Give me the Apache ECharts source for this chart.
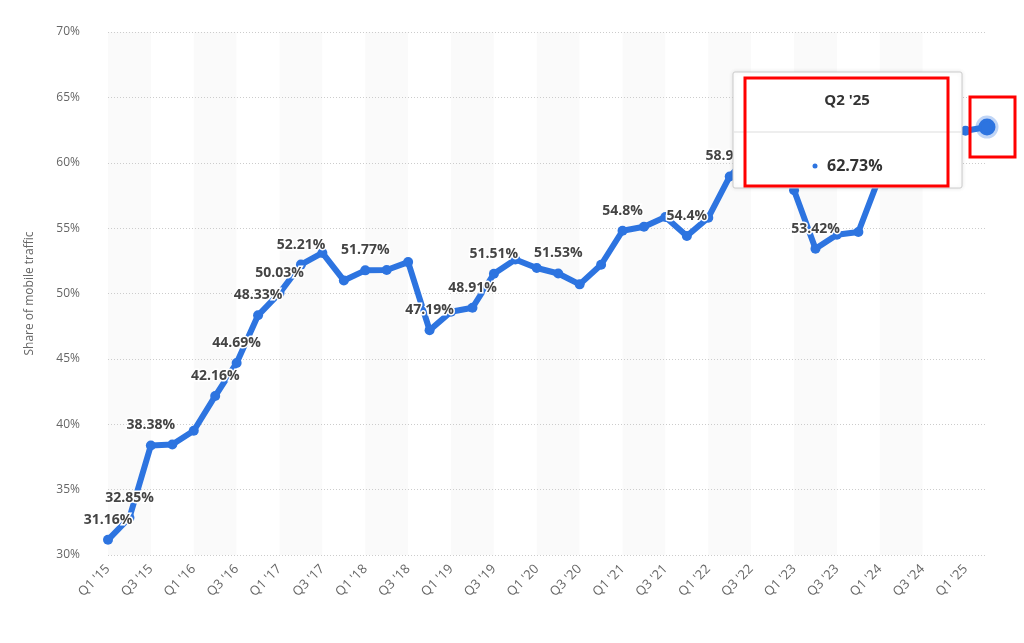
<!DOCTYPE html>
<html>
<head>
<meta charset="utf-8">
<script src="https://cdn.jsdelivr.net/npm/echarts@6/dist/echarts.min.js"></script>
<style>
  html, body { margin: 0; padding: 0; background: #fff; }
  #chart { width: 1024px; height: 643px; }
</style>
</head>
<body>
<div id="chart"></div>
<script>
// quarters Q1 '15 .. Q2 '25
const quarters = [];
for (let y = 15; y <= 25; y++) {
  for (let q = 1; q <= 4; q++) {
    if (y === 25 && q > 2) break;
    quarters.push(`Q${q} '${y}`);
  }
}

const mobileShare = [
  31.16, 32.85, 38.38, 38.45, 39.5, 42.16, 44.69, 48.33, 50.03, 52.21,
  53.1, 51.0, 51.77, 51.8, 52.4, 47.19, 48.6, 48.91, 51.51, 52.6,
  51.95, 51.53, 50.7, 52.2, 54.8, 55.1, 55.85, 54.4, 55.8, 58.95,
  60.7, 61.0, 57.9, 53.42, 54.5, 54.7, 59.0, 60.6, 61.6, 62.1,
  62.45, 62.73
];

// indices that carry a value label
const labelled = [0, 1, 2, 5, 6, 7, 8, 9, 12, 15, 17, 18, 21, 24, 27, 29, 33];

const blue = '#2d74e0';

const chart = echarts.init(document.getElementById('chart'));

const seriesData = mobileShare.map((v, i) => {
  const item = { value: v };
  if (labelled.includes(i)) item.label = { show: true };
  if (i === mobileShare.length - 1) {
    item.symbolSize = 17;
    item.itemStyle = { borderColor: 'rgba(45,116,224,0.3)', borderWidth: 6 };
  }
  return item;
});

chart.setOption({
  animation: false,
  grid: { left: 108, right: 37, top: 32, bottom: 88 },
  xAxis: {
    type: 'category',
    z: 0,
    data: quarters,
    boundaryGap: false,
    axisLine: { show: false },
    axisTick: { show: false },
    axisLabel: {
      interval: 1, rotate: 45, color: '#666', fontSize: 13,
      fontFamily: 'Open Sans', margin: 12
    },
    splitLine: { show: false },
    splitArea: { show: true, interval: 1, areaStyle: { color: ['#fafafa', '#fff'] } }
  },
  yAxis: {
    type: 'value',
    z: 1,
    min: 30, max: 70, interval: 5,
    name: 'Share of mobile traffic',
    nameLocation: 'middle',
    nameGap: 72,
    nameTextStyle: { color: '#666', fontSize: 12, fontFamily: 'Open Sans' },
    axisLabel: { formatter: '{value}%', color: '#666', fontSize: 12, fontFamily: 'Open Sans', margin: 28 },
    splitLine: { lineStyle: { color: '#ccc', type: [1, 2] } }
  },
  series: [{
    type: 'line',
    data: seriesData,
    symbol: 'circle',
    symbolSize: 10,
    lineStyle: { color: blue, width: 6 },
    itemStyle: { color: blue },
    z: 5,
    label: {
      show: false, position: 'top', distance: 8,
      formatter: p => p.value + '%',
      color: '#444', fontSize: 14, fontWeight: 'bold', fontFamily: 'Open Sans',
      textBorderColor: '#fff', textBorderWidth: 3
    }
  }],
  graphic: { elements: [
    { type: 'rect', z: 100, shape: { x: 733, y: 72, width: 229, height: 116, r: 2 },
      style: { fill: '#fff', stroke: '#ccc', lineWidth: 1, shadowBlur: 4, shadowColor: 'rgba(0,0,0,0.1)' } },
    { type: 'line', z: 101, shape: { x1: 734, y1: 132, x2: 961, y2: 132 }, style: { stroke: '#ddd', lineWidth: 1 } },
    { type: 'text', z: 101, x: 847, y: 101, style: { text: "Q2 '25", fill: '#333', font: 'bold 15px "Open Sans"', align: 'center', verticalAlign: 'middle' } },
    { type: 'circle', z: 101, shape: { cx: 815, cy: 166, r: 2.5 }, style: { fill: blue } },
    { type: 'text', z: 101, x: 827, y: 166, style: { text: '62.73%', fill: '#333', font: 'bold 16px "Open Sans"', verticalAlign: 'middle' } },
    { type: 'rect', z: 102, shape: { x: 745, y: 78, width: 203, height: 108 }, style: { fill: 'none', stroke: '#f00', lineWidth: 3 } },
    { type: 'rect', z: 102, shape: { x: 970, y: 97, width: 45, height: 60 }, style: { fill: 'none', stroke: '#f00', lineWidth: 3 } }
  ] }
});
</script>
</body>
</html>
